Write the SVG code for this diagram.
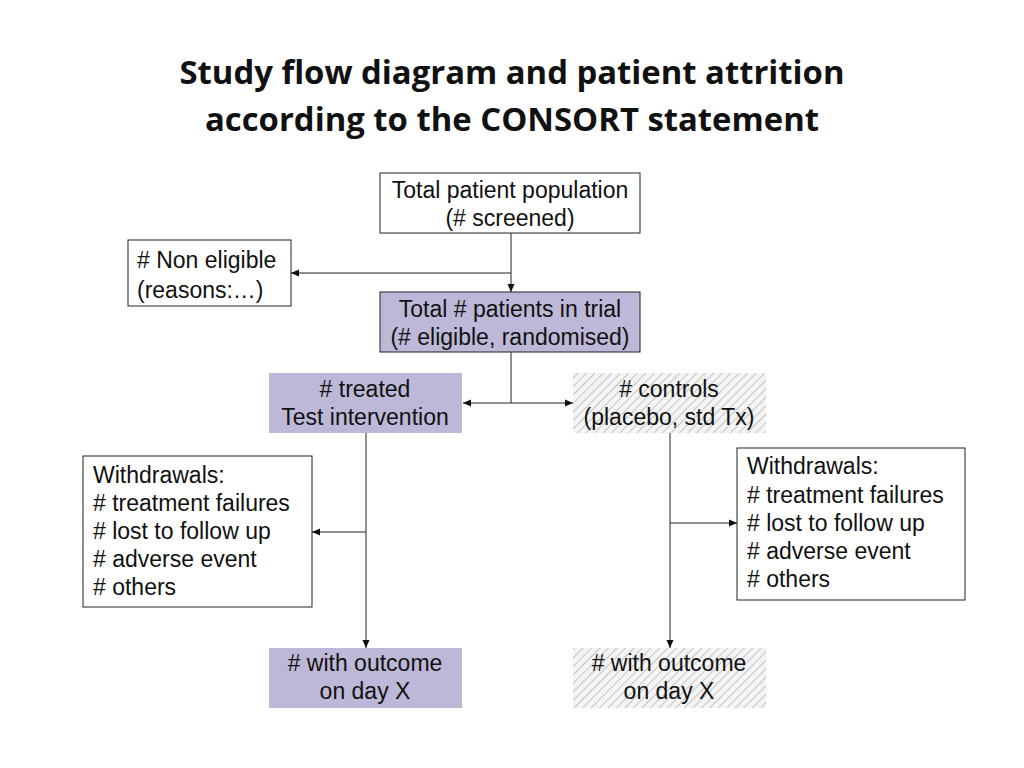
<svg xmlns="http://www.w3.org/2000/svg" width="1024" height="768" viewBox="0 0 1024 768">
<style>
.t{font-family:"Liberation Sans",Arial,sans-serif;font-size:23px;fill:#111}
.c{text-anchor:middle}
.h{font-family:"Open Sans","Liberation Sans",sans-serif;font-weight:bold;font-size:32px;text-anchor:middle;fill:#111}
.w{fill:#fff;stroke:#222;stroke-width:1}
.p{fill:#bdb8d7}
.pb{fill:#bdb8d7;stroke:#222;stroke-width:1}
.x{fill:url(#hatch)}
.l{stroke:#222;stroke-width:1;fill:none}
</style>
<defs>
<pattern id="hatch" width="6" height="6" patternUnits="userSpaceOnUse" patternTransform="rotate(45)">
<rect width="6" height="6" fill="#f4f4f4"/>
<line x1="0" y1="0" x2="0" y2="6" stroke="#c4c4c4" stroke-width="2"/>
</pattern>
<marker id="a" markerWidth="8" markerHeight="8" refX="8" refY="4" orient="auto" markerUnits="userSpaceOnUse">
<path d="M0,0.5 L8,4 L0,7.5 Z" fill="#111"/>
</marker>
</defs>
<rect width="1024" height="768" fill="#fff"/>
<text class="h" x="512" y="84" textLength="665" lengthAdjust="spacingAndGlyphs">Study flow diagram and patient attrition</text>
<text class="h" x="512" y="131" textLength="614" lengthAdjust="spacingAndGlyphs">according to the CONSORT statement</text>
<g id="connectors">
<path class="l" d="M511,233 V292" marker-end="url(#a)"/>
<path class="l" d="M511,273 H291" marker-end="url(#a)"/>
<path class="l" d="M511,352 V403"/>
<path class="l" d="M511,403 H463" marker-end="url(#a)"/>
<path class="l" d="M511,403 H573" marker-end="url(#a)"/>
<path class="l" d="M366,433 V648" marker-end="url(#a)"/>
<path class="l" d="M366,532 H312" marker-end="url(#a)"/>
<path class="l" d="M670,433 V648" marker-end="url(#a)"/>
<path class="l" d="M670,523 H737" marker-end="url(#a)"/>
</g>
<g id="screened"><rect class="w" x="380" y="173" width="260" height="60"/>
<text class="t c" x="510" y="198">Total patient population</text><text class="t c" x="510" y="226">(# screened)</text></g>
<g id="noneligible"><rect class="w" x="128" y="240" width="163" height="66"/>
<text class="t" x="137" y="268">#&#160;Non eligible</text><text class="t" x="137" y="298">(reasons:…)</text></g>
<g id="trial"><rect class="pb" x="380" y="292" width="260" height="60"/>
<text class="t c" x="510" y="317">Total # patients in trial</text><text class="t c" x="510" y="345">(# eligible, randomised)</text></g>
<g id="treated"><rect class="p" x="269" y="373" width="193" height="60"/>
<text class="t c" x="365" y="397">#&#160;treated</text><text class="t c" x="365" y="425">Test intervention</text></g>
<g id="controls"><rect class="x" x="573" y="373" width="193" height="60"/>
<text class="t c" x="669" y="397">#&#160;controls</text><text class="t c" x="669" y="425">(placebo, std Tx)</text></g>
<g id="withdrawL"><rect class="w" x="83" y="456" width="229" height="151"/>
<text class="t" x="93" y="483">Withdrawals:</text><text class="t" x="93" y="511">#&#160;treatment failures</text><text class="t" x="93" y="539">#&#160;lost to follow up</text><text class="t" x="93" y="567">#&#160;adverse event</text><text class="t" x="93" y="595">#&#160;others</text></g>
<g id="withdrawR"><rect class="w" x="737" y="448" width="228" height="152"/>
<text class="t" x="747" y="474">Withdrawals:</text><text class="t" x="747" y="503">#&#160;treatment failures</text><text class="t" x="747" y="531">#&#160;lost to follow up</text><text class="t" x="747" y="559">#&#160;adverse event</text><text class="t" x="747" y="587">#&#160;others</text></g>
<g id="outcomeL"><rect class="p" x="269" y="648" width="193" height="60"/>
<text class="t c" x="365" y="671">#&#160;with outcome</text><text class="t c" x="365" y="699">on day X</text></g>
<g id="outcomeR"><rect class="x" x="573" y="648" width="193" height="60"/>
<text class="t c" x="669" y="671">#&#160;with outcome</text><text class="t c" x="669" y="699">on day X</text></g>
</svg>
